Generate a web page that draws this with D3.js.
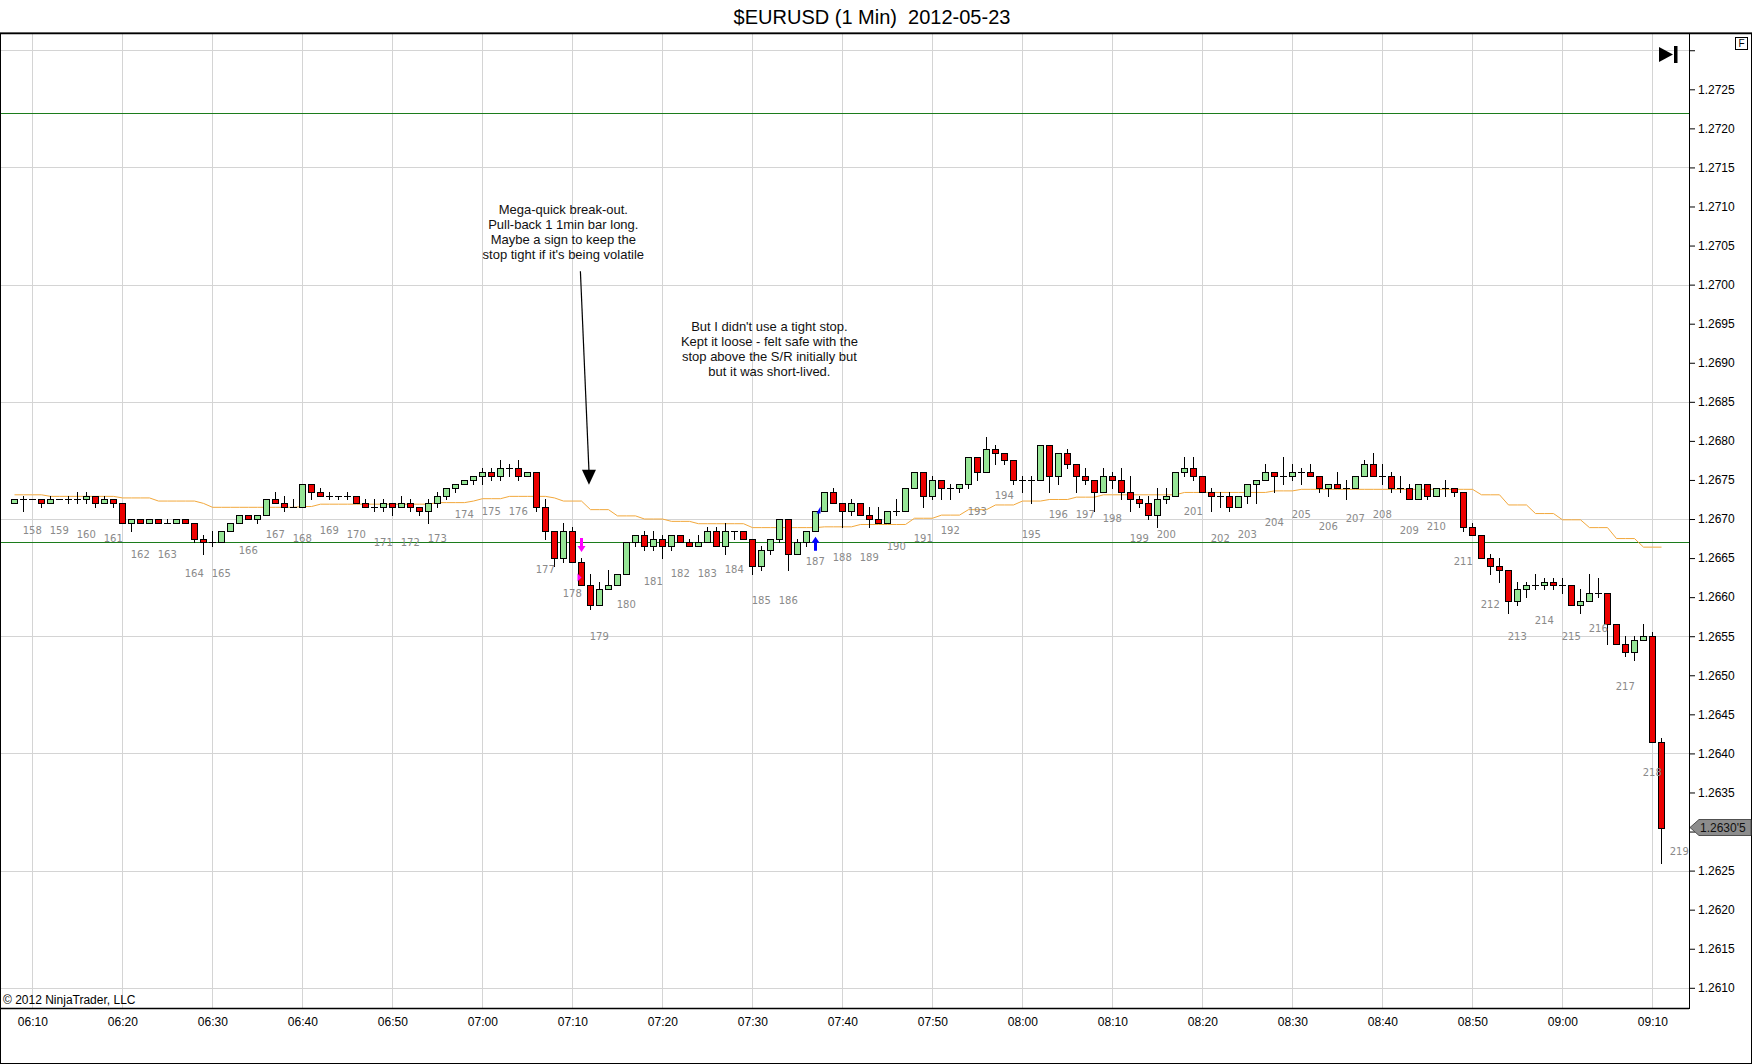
<!DOCTYPE html>
<html><head><meta charset="utf-8">
<script src="https://cdn.jsdelivr.net/npm/d3@7"></script>
<style>
html,body{margin:0;padding:0;background:#fff;overflow:hidden}
svg{display:block}
text{font-family:"Liberation Sans",Arial,sans-serif}
</style>
</head><body>
<svg id="chart" width="1752" height="1064"></svg>
<script>
// ---------------- DATA ----------------
const chartTitle = "$EURUSD (1 Min)  2012-05-23";
const copyright = "\u00a9 2012 NinjaTrader, LLC";
const firstBarTime = "06:08";           // one bar per minute from here
const xAnchor = ["06:10", "09:10"];      // time gridlines anchors

const opens = [
1.26720,1.26725,1.26725,1.26725,1.26720,1.26725,1.26725,1.26725,1.26725,1.26730,1.26720,1.26725,
1.26720,1.26695,1.26700,1.26695,1.26700,1.26695,1.26695,1.26700,1.26695,1.26675,1.26670,1.26670,
1.26685,1.26695,1.26705,1.26700,1.26705,1.26725,1.26720,1.26715,1.26715,1.26745,1.26735,1.26730,
1.26730,1.26730,1.26730,1.26720,1.26715,1.26715,1.26720,1.26715,1.26720,1.26715,1.26710,1.26720,
1.26730,1.26740,1.26745,1.26750,1.26755,1.26760,1.26755,1.26765,1.26765,1.26755,1.26760,1.26715,
1.26685,1.26650,1.26685,1.26645,1.26615,1.26590,1.26610,1.26615,1.26630,1.26670,1.26680,1.26665,
1.26675,1.26665,1.26680,1.26670,1.26665,1.26670,1.26685,1.26665,1.26685,1.26685,1.26675,1.26640,
1.26660,1.26675,1.26700,1.26655,1.26670,1.26685,1.26710,1.26735,1.26720,1.26710,1.26720,1.26705,
1.26700,1.26695,1.26710,1.26710,1.26740,1.26760,1.26730,1.26750,1.26740,1.26740,1.26745,1.26780,
1.26760,1.26790,1.26785,1.26775,1.26750,1.26750,1.26750,1.26795,1.26755,1.26785,1.26770,1.26755,
1.26750,1.26735,1.26755,1.26750,1.26735,1.26725,1.26720,1.26705,1.26725,1.26730,1.26760,1.26765,
1.26755,1.26735,1.26730,1.26730,1.26715,1.26730,1.26745,1.26750,1.26760,1.26755,1.26755,1.26760,
1.26760,1.26755,1.26740,1.26745,1.26740,1.26740,1.26755,1.26770,1.26755,1.26755,1.26740,1.26740,
1.26725,1.26745,1.26730,1.26740,1.26740,1.26735,1.26690,1.26680,1.26650,1.26640,1.26635,1.26595,
1.26610,1.26615,1.26615,1.26620,1.26615,1.26615,1.26590,1.26595,1.26605,1.26605,1.26565,1.26540,
1.26530,1.26545,1.26550,1.26415];
const highs = [
1.26725,1.26730,1.26725,1.26725,1.26730,1.26725,1.26730,1.26735,1.26735,1.26730,1.26730,1.26725,
1.26720,1.26700,1.26700,1.26700,1.26700,1.26700,1.26700,1.26700,1.26695,1.26680,1.26685,1.26685,
1.26695,1.26705,1.26705,1.26705,1.26725,1.26735,1.26730,1.26725,1.26745,1.26745,1.26740,1.26735,
1.26730,1.26735,1.26730,1.26725,1.26725,1.26725,1.26720,1.26730,1.26725,1.26715,1.26725,1.26735,
1.26740,1.26745,1.26750,1.26755,1.26765,1.26765,1.26775,1.26770,1.26775,1.26760,1.26760,1.26725,
1.26685,1.26695,1.26690,1.26650,1.26630,1.26620,1.26635,1.26630,1.26670,1.26680,1.26685,1.26685,
1.26680,1.26680,1.26680,1.26675,1.26680,1.26690,1.26690,1.26695,1.26685,1.26685,1.26675,1.26665,
1.26675,1.26700,1.26700,1.26675,1.26685,1.26710,1.26735,1.26740,1.26720,1.26725,1.26720,1.26715,
1.26715,1.26710,1.26725,1.26740,1.26760,1.26760,1.26755,1.26750,1.26745,1.26745,1.26780,1.26780,
1.26805,1.26795,1.26785,1.26775,1.26755,1.26755,1.26795,1.26795,1.26785,1.26790,1.26770,1.26765,
1.26750,1.26765,1.26760,1.26765,1.26755,1.26730,1.26730,1.26740,1.26740,1.26760,1.26780,1.26780,
1.26755,1.26740,1.26735,1.26735,1.26730,1.26745,1.26750,1.26770,1.26760,1.26780,1.26770,1.26765,
1.26770,1.26755,1.26745,1.26760,1.26750,1.26755,1.26775,1.26785,1.26770,1.26760,1.26755,1.26745,
1.26745,1.26745,1.26740,1.26750,1.26740,1.26735,1.26695,1.26680,1.26655,1.26650,1.26635,1.26620,
1.26620,1.26630,1.26625,1.26625,1.26625,1.26615,1.26610,1.26630,1.26625,1.26605,1.26565,1.26550,
1.26550,1.26565,1.26555,1.26420];
const lows = [
1.26720,1.26710,1.26725,1.26715,1.26720,1.26725,1.26720,1.26720,1.26720,1.26715,1.26720,1.26715,
1.26695,1.26685,1.26695,1.26695,1.26695,1.26695,1.26695,1.26695,1.26670,1.26655,1.26665,1.26670,
1.26685,1.26695,1.26700,1.26695,1.26705,1.26720,1.26710,1.26715,1.26715,1.26725,1.26730,1.26725,
1.26725,1.26725,1.26720,1.26715,1.26710,1.26710,1.26705,1.26715,1.26710,1.26705,1.26695,1.26715,
1.26725,1.26735,1.26745,1.26745,1.26745,1.26750,1.26750,1.26755,1.26750,1.26755,1.26710,1.26675,
1.26640,1.26645,1.26645,1.26615,1.26585,1.26590,1.26610,1.26615,1.26630,1.26665,1.26660,1.26660,
1.26650,1.26660,1.26670,1.26665,1.26665,1.26670,1.26665,1.26655,1.26675,1.26675,1.26630,1.26635,
1.26655,1.26670,1.26635,1.26655,1.26665,1.26685,1.26710,1.26720,1.26690,1.26705,1.26705,1.26690,
1.26695,1.26695,1.26705,1.26710,1.26740,1.26715,1.26725,1.26725,1.26725,1.26735,1.26740,1.26750,
1.26760,1.26770,1.26770,1.26745,1.26735,1.26720,1.26750,1.26735,1.26745,1.26765,1.26735,1.26745,
1.26710,1.26735,1.26740,1.26725,1.26710,1.26715,1.26700,1.26690,1.26720,1.26730,1.26755,1.26750,
1.26735,1.26710,1.26715,1.26710,1.26715,1.26720,1.26720,1.26750,1.26735,1.26745,1.26750,1.26745,
1.26755,1.26735,1.26730,1.26740,1.26725,1.26740,1.26755,1.26755,1.26745,1.26735,1.26735,1.26725,
1.26725,1.26725,1.26730,1.26730,1.26730,1.26685,1.26680,1.26650,1.26630,1.26620,1.26580,1.26590,
1.26600,1.26610,1.26610,1.26610,1.26605,1.26590,1.26580,1.26595,1.26600,1.26540,1.26540,1.26525,
1.26520,1.26545,1.26415,1.26260];
const closes = [
1.26725,1.26725,1.26725,1.26720,1.26725,1.26725,1.26725,1.26725,1.26730,1.26720,1.26725,1.26720,
1.26695,1.26700,1.26695,1.26700,1.26695,1.26695,1.26700,1.26695,1.26675,1.26670,1.26670,1.26685,
1.26695,1.26705,1.26700,1.26705,1.26725,1.26720,1.26715,1.26715,1.26745,1.26735,1.26730,1.26730,
1.26730,1.26730,1.26720,1.26715,1.26715,1.26720,1.26715,1.26720,1.26715,1.26710,1.26720,1.26730,
1.26740,1.26745,1.26750,1.26755,1.26760,1.26755,1.26765,1.26765,1.26755,1.26760,1.26715,1.26685,
1.26650,1.26685,1.26645,1.26615,1.26590,1.26610,1.26615,1.26630,1.26670,1.26680,1.26665,1.26675,
1.26665,1.26680,1.26670,1.26665,1.26670,1.26685,1.26665,1.26685,1.26685,1.26675,1.26640,1.26660,
1.26675,1.26700,1.26655,1.26670,1.26685,1.26710,1.26735,1.26720,1.26710,1.26720,1.26705,1.26700,
1.26695,1.26710,1.26710,1.26740,1.26760,1.26730,1.26750,1.26740,1.26740,1.26745,1.26780,1.26760,
1.26790,1.26785,1.26775,1.26750,1.26750,1.26750,1.26795,1.26755,1.26785,1.26770,1.26755,1.26750,
1.26735,1.26755,1.26750,1.26735,1.26725,1.26720,1.26705,1.26725,1.26730,1.26760,1.26765,1.26755,
1.26735,1.26730,1.26730,1.26715,1.26730,1.26745,1.26750,1.26760,1.26755,1.26755,1.26760,1.26760,
1.26755,1.26740,1.26745,1.26740,1.26740,1.26755,1.26770,1.26755,1.26755,1.26740,1.26740,1.26725,
1.26745,1.26730,1.26740,1.26740,1.26735,1.26690,1.26680,1.26650,1.26640,1.26635,1.26595,1.26610,
1.26615,1.26615,1.26620,1.26615,1.26615,1.26590,1.26595,1.26605,1.26605,1.26565,1.26540,1.26530,
1.26545,1.26550,1.26415,1.26305];
const maValues = [
1.26731,1.26731,1.26731,1.26731,1.26729,1.26729,1.26729,1.26729,1.26729,1.26729,1.26729,1.26729,
1.26727,1.26727,1.26727,1.26727,1.26723,1.26723,1.26723,1.26723,1.26723,1.26720,1.26715,1.26715,
1.26715,1.26715,1.26715,1.26715,1.26715,1.26715,1.26715,1.26715,1.26716,1.26716,1.26719,1.26719,
1.26719,1.26719,1.26719,1.26719,1.26719,1.26719,1.26719,1.26719,1.26719,1.26719,1.26719,1.26721,
1.26721,1.26721,1.26721,1.26723,1.26726,1.26726,1.26726,1.26729,1.26729,1.26729,1.26729,1.26729,
1.26727,1.26723,1.26723,1.26723,1.26712,1.26712,1.26712,1.26704,1.26704,1.26704,1.26700,1.26700,
1.26700,1.26697,1.26697,1.26697,1.26694,1.26694,1.26694,1.26694,1.26694,1.26694,1.26689,1.26689,
1.26689,1.26689,1.26689,1.26689,1.26689,1.26689,1.26690,1.26690,1.26690,1.26690,1.26693,1.26693,
1.26693,1.26693,1.26693,1.26693,1.26701,1.26701,1.26701,1.26705,1.26705,1.26705,1.26712,1.26712,
1.26712,1.26718,1.26718,1.26718,1.26723,1.26723,1.26723,1.26725,1.26725,1.26725,1.26728,1.26728,
1.26728,1.26731,1.26731,1.26731,1.26731,1.26731,1.26731,1.26731,1.26731,1.26731,1.26734,1.26734,
1.26734,1.26734,1.26734,1.26734,1.26734,1.26734,1.26734,1.26734,1.26736,1.26736,1.26736,1.26738,
1.26738,1.26738,1.26738,1.26738,1.26738,1.26738,1.26738,1.26738,1.26738,1.26738,1.26738,1.26738,
1.26738,1.26738,1.26738,1.26738,1.26738,1.26738,1.26738,1.26731,1.26731,1.26731,1.26718,1.26718,
1.26718,1.26707,1.26707,1.26707,1.26699,1.26699,1.26699,1.26689,1.26689,1.26689,1.26675,1.26675,
1.26675,1.26664,1.26664,1.26664];

const srLevels = [1.2722, 1.2667];              // green horizontal lines
const priceTickStep = 0.0005;
const priceRange = [1.2610, 1.2730];
const gridPriceStep = 0.0015;
const lastPriceLabel = "1.2630'5";
const lastPrice = 1.26305;

// bar counter labels: every 3rd bar, first at 06:10
const barLabelFirst = 158, barLabelLast = 219, barLabelEvery = 3, barLabelStart = "06:10";
const lastBarLabelPrice = 1.26275;   // label past the final bar

// signals
const sellSignal = {time: "07:11", fill: 1.26625};
const buySignal  = {time: "07:37", fill: 1.26711};

// annotations (time, price)
const note1Lines = ["Mega-quick break-out.", "Pull-back 1 1min bar long.", "Maybe a sign to keep the", "stop tight if it's being volatile"];
const note1Anchor = {time: "07:09", price: 1.27096};
const note2Lines = ["But I didn't use a tight stop.", "Kept it loose - felt safe with the", "stop above the S/R initially but", "but it was short-lived."];
const note2Anchor = {time: "07:31.9", price: 1.26946};
const arrowFrom = {time: "07:10.9", price: 1.27017};
const arrowTo   = {time: "07:11.85", price: 1.26744};

// ---------------- DRAW ----------------
const svg = d3.select("#chart");
const W = 1752, H = 1064;
const P = {left: 1, top: 33, right: 1689, bottom: 1008};

function tm(s){ const [h,m] = s.split(":"); const mm = parseFloat(m); return new Date(2012,4,23,+h,0,0,0).getTime() + mm*60000; }
const t0 = tm(firstBarTime);
const bars = opens.map((o,i)=>({t: new Date(t0 + i*60000), o, h: highs[i], l: lows[i], c: closes[i], ma: maValues[i]}));

const x = d3.scaleTime().domain([new Date(tm(xAnchor[0])), new Date(tm(xAnchor[1]))]).range([32.3, 1652.3]);
const y = d3.scaleLinear().domain([1.2610, 1.2725]).range([987.8, 89.3]);

svg.append("rect").attr("width",W).attr("height",H).attr("fill","#fff");

// grid
const gGrid = svg.append("g");
const gridPrices = d3.range(0, Math.round((priceRange[1]-priceRange[0])/gridPriceStep)+1).map(k=>+(priceRange[0]+k*gridPriceStep).toFixed(4));
gGrid.selectAll("line.h").data(gridPrices).join("line")
  .attr("x1",P.left).attr("x2",P.right)
  .attr("y1",d=>Math.round(y(d))+0.5).attr("y2",d=>Math.round(y(d))+0.5)
  .attr("stroke","#d4d4d4").attr("stroke-width",1);
const timeTicks = d3.timeMinute.every(10).range(x.invert(P.left), x.invert(P.right));
gGrid.selectAll("line.v").data(timeTicks).join("line")
  .attr("x1",d=>Math.round(x(d))+0.5).attr("x2",d=>Math.round(x(d))+0.5)
  .attr("y1",P.top).attr("y2",P.bottom)
  .attr("stroke","#d4d4d4").attr("stroke-width",1);

// S/R lines
svg.append("g").selectAll("line").data(srLevels).join("line")
  .attr("x1",P.left).attr("x2",P.right)
  .attr("y1",d=>Math.round(y(d))+0.5).attr("y2",d=>Math.round(y(d))+0.5)
  .attr("stroke","#1c7c1c").attr("stroke-width",1);

// moving average
svg.append("path").datum(bars)
  .attr("d", d3.line().x(d=>Math.round(x(d.t))+0.5).y(d=>y(d.ma)))
  .attr("fill","none").attr("stroke","#f2a83c").attr("stroke-width",1);

// candles
const gC = svg.append("g");
const cg = gC.selectAll("g").data(bars).join("g");
cg.append("line")
  .attr("x1",d=>Math.round(x(d.t))+0.5).attr("x2",d=>Math.round(x(d.t))+0.5)
  .attr("y1",d=>Math.round(y(d.h))).attr("y2",d=>Math.round(y(d.l))+1)
  .attr("stroke","#000").attr("stroke-width",1);
cg.filter(d=>d.o!==d.c).append("rect")
  .attr("x",d=>Math.round(x(d.t))-3+0.5)
  .attr("y",d=>Math.round(y(Math.max(d.o,d.c)))+0.5)
  .attr("width",6)
  .attr("height",d=>Math.max(1,Math.round(y(Math.min(d.o,d.c)))-Math.round(y(Math.max(d.o,d.c)))))
  .attr("fill",d=>d.c>d.o?"#96e596":"#ec0000")
  .attr("stroke","#000").attr("stroke-width",1);
cg.filter(d=>d.o===d.c).append("line")
  .attr("x1",d=>Math.round(x(d.t))-3).attr("x2",d=>Math.round(x(d.t))+4)
  .attr("y1",d=>Math.round(y(d.o))+0.5).attr("y2",d=>Math.round(y(d.o))+0.5)
  .attr("stroke","#000").attr("stroke-width",1);

// bar counter labels
const labStart = tm(barLabelStart);
const barLabels = d3.range(barLabelFirst, barLabelLast+1).map(k=>{
  const t = labStart + (k-barLabelFirst)*barLabelEvery*60000;
  const b = bars.find(bb=>bb.t.getTime()===t);
  return {k, t:new Date(t), low: b ? b.l : null};
});
svg.append("g").selectAll("text").data(barLabels).join("text")
  .attr("x",d=>x(d.t)).attr("y",d=> d.low!==null ? y(d.low)+31+3.6 : y(lastBarLabelPrice)+3.6)
  .attr("text-anchor","middle").attr("font-size",10)
  .style("font-family","'DejaVu Sans',Verdana,sans-serif")
  .attr("fill","#8a8a8a").text(d=>d.k);

// signals
function barAt(s){ const t = tm(s); return bars.find(b=>b.t.getTime()===t); }
const sb = barAt(sellSignal.time), bb = barAt(buySignal.time);
const sx = Math.round(x(sb.t))+0.5, sTip = y(sb.h)-6;
svg.append("path").attr("d",`M${sx-1.5},${sTip-14}h3v8h2.5l-4,6l-4,-6h2.5z`).attr("fill","#ff00ff");
svg.append("path").attr("d",`M${sx-4},${y(sellSignal.fill)-4}l4,4l-4,4z`).attr("fill","#ff00ff");
const bx = Math.round(x(bb.t))+0.5, bTip = y(bb.l)+6;
svg.append("path").attr("d",`M${bx-1.5},${bTip+14}h3v-8h2.5l-4,-6l-4,6h2.5z`).attr("fill","#0000ff");
svg.append("path").attr("d",`M${bx+1},${y(buySignal.fill)+3}l4,-7l0,7z`).attr("fill","#0000ff");

// annotations
function note(lines, a){
  const cx = x(new Date(tm(a.time))), cy = y(a.price);
  svg.append("g").selectAll("text").data(lines).join("text")
    .attr("x",cx).attr("y",(d,i)=>cy+4.5+i*15)
    .attr("text-anchor","middle").attr("font-size",13).attr("fill","#111").text(d=>d);
}
note(note1Lines, note1Anchor);
note(note2Lines, note2Anchor);
const ax1 = x(new Date(tm(arrowFrom.time))), ay1 = y(arrowFrom.price);
const ax2 = x(new Date(tm(arrowTo.time))), ay2 = y(arrowTo.price);
svg.append("line").attr("x1",ax1).attr("y1",ay1).attr("x2",ax2).attr("y2",ay2-14).attr("stroke","#000").attr("stroke-width",1.2);
svg.append("path").attr("d",`M${ax2-7},${ay2-15}L${ax2+7},${ay2-15}L${ax2},${ay2}z`).attr("fill","#000");

// frame
svg.append("line").attr("x1",0).attr("x2",W).attr("y1",P.top+0.5).attr("y2",P.top+0.5).attr("stroke","#000").attr("stroke-width",1.5);
svg.append("line").attr("x1",0).attr("x2",P.right).attr("y1",P.bottom+0.5).attr("y2",P.bottom+0.5).attr("stroke","#000").attr("stroke-width",1.5);
svg.append("line").attr("x1",P.right+0.5).attr("x2",P.right+0.5).attr("y1",P.top).attr("y2",P.bottom+1).attr("stroke","#000").attr("stroke-width",1);
svg.append("rect").attr("x",0.5).attr("y",P.top).attr("width",W-1).attr("height",H-P.top-0.5).attr("fill","none").attr("stroke","#000").attr("stroke-width",1);

// right axis (labels hidden where the last-price marker covers them)
const ly = Math.round(y(lastPrice))+0.5;
const priceTicks = d3.range(0, Math.round((priceRange[1]-priceRange[0])/priceTickStep)+1).map(k=>+(priceRange[0]+k*priceTickStep).toFixed(4));
const yAxis = d3.axisRight(y).tickValues(priceTicks).tickSize(6).tickPadding(3)
  .tickFormat(d=> (d>=priceRange[1]-1e-9 || Math.abs(y(d)-ly)<12) ? "" : d3.format(".4f")(d));
const gy = svg.append("g").attr("transform",`translate(${P.right},0)`).call(yAxis);
gy.select(".domain").remove();
gy.selectAll("line").attr("stroke","#000");
gy.selectAll("text").attr("font-size",12).attr("fill","#000").style("font-family","'Liberation Sans',Arial,sans-serif");

// bottom axis
const xAxis = d3.axisBottom(x).tickValues(timeTicks).tickFormat(d3.timeFormat("%H:%M")).tickSize(0).tickPadding(9);
const gx = svg.append("g").attr("transform",`translate(0,${P.bottom})`).call(xAxis);
gx.select(".domain").remove();
gx.selectAll("text").attr("font-size",12).attr("fill","#000").style("font-family","'Liberation Sans',Arial,sans-serif");

// last price marker
svg.append("path").attr("d",`M${P.right+1},${ly-1}L${P.right+10},${ly-9}L${W-1},${ly-9}L${W-1},${ly+7}L${P.right+10},${ly+7}Z`)
  .attr("fill","#8c8c8c").attr("stroke","#505050").attr("stroke-width",1);
svg.append("text").attr("x",P.right+11).attr("y",ly+3.5).attr("font-size",12).attr("fill","#111").text(lastPriceLabel);

// title
svg.append("text").attr("x",872).attr("y",24).attr("text-anchor","middle").attr("font-size",20)
  .attr("fill","#000").style("white-space","pre").attr("xml:space","preserve").text(chartTitle);

// copyright
svg.append("text").attr("x",3).attr("y",1004).attr("font-size",12).attr("fill","#000").text(copyright);

// icons
svg.append("path").attr("d","M1659,47L1673,54.5L1659,62Z").attr("fill","#000");
svg.append("rect").attr("x",1674).attr("y",46).attr("width",3.5).attr("height",17).attr("fill","#000");
svg.append("rect").attr("x",1735.5).attr("y",37.5).attr("width",12).attr("height",12).attr("fill","#fff").attr("stroke","#000");
svg.append("text").attr("x",1741.5).attr("y",47).attr("text-anchor","middle").attr("font-size",10).attr("fill","#000").text("F");
</script>
</body></html>
